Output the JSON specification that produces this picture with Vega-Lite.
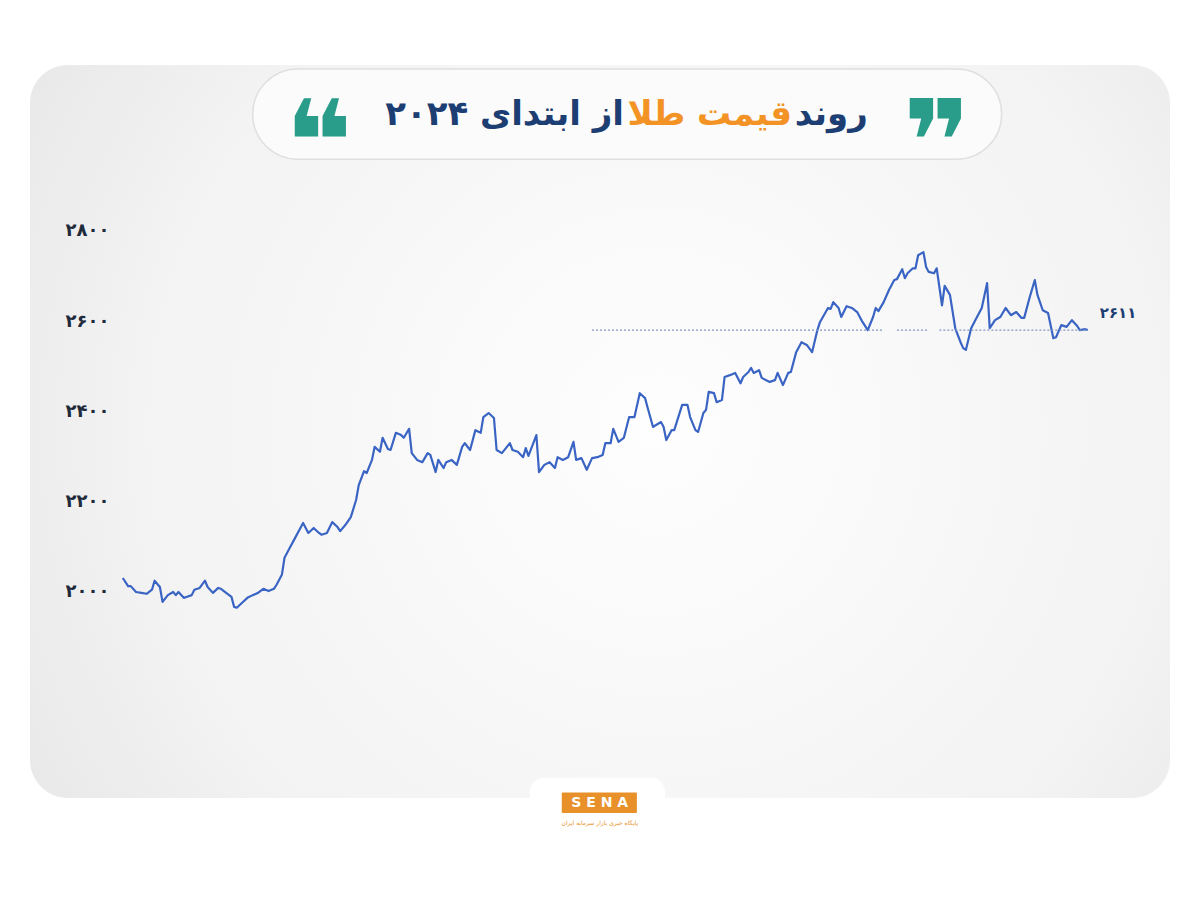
{
  "$schema": "https://vega.github.io/schema/vega-lite/v6.json",
  "width": 1140,
  "height": 733,
  "autosize": {"type": "none"},
  "padding": {"left": 30, "top": 65, "right": 30, "bottom": 102},
  "background": "#ffffff",
  "config": {
    "view": {
      "cornerRadius": 38,
      "stroke": null,
      "fill": {
        "gradient": "radial",
        "x1": 0.55, "y1": 0.5, "r1": 0,
        "x2": 0.55, "y2": 0.5, "r2": 0.75,
        "stops": [
          {"offset": 0, "color": "#fefefe"},
          {"offset": 0.6, "color": "#f3f3f3"},
          {"offset": 1, "color": "#e2e2e2"}
        ]
      }
    }
  },
  "data": {"values": [{"k": 1}]},
  "datasets": {
    "gold": [
      {"date":"2024-01-02","price":2061},{"date":"2024-01-04","price":2043},{"date":"2024-01-05","price":2043},
      {"date":"2024-01-07","price":2030},{"date":"2024-01-09","price":2028},{"date":"2024-01-11","price":2026},
      {"date":"2024-01-13","price":2035},{"date":"2024-01-14","price":2055},{"date":"2024-01-16","price":2041},
      {"date":"2024-01-17","price":2008},{"date":"2024-01-19","price":2023},{"date":"2024-01-21","price":2030},
      {"date":"2024-01-22","price":2023},{"date":"2024-01-23","price":2030},{"date":"2024-01-25","price":2017},
      {"date":"2024-01-26","price":2019},{"date":"2024-01-28","price":2023},{"date":"2024-01-29","price":2035},
      {"date":"2024-01-31","price":2039},{"date":"2024-02-02","price":2055},{"date":"2024-02-03","price":2041},
      {"date":"2024-02-05","price":2028},{"date":"2024-02-07","price":2039},{"date":"2024-02-08","price":2037},
      {"date":"2024-02-10","price":2028},{"date":"2024-02-12","price":2019},{"date":"2024-02-13","price":1997},
      {"date":"2024-02-14","price":1995},{"date":"2024-02-16","price":2006},{"date":"2024-02-18","price":2017},
      {"date":"2024-02-20","price":2023},{"date":"2024-02-22","price":2028},{"date":"2024-02-24","price":2037},
      {"date":"2024-02-26","price":2032},{"date":"2024-02-28","price":2037},{"date":"2024-02-29","price":2046},
      {"date":"2024-03-02","price":2068},{"date":"2024-03-03","price":2106},{"date":"2024-03-05","price":2128},
      {"date":"2024-03-07","price":2150},{"date":"2024-03-09","price":2172},{"date":"2024-03-10","price":2183},
      {"date":"2024-03-12","price":2161},{"date":"2024-03-14","price":2172},{"date":"2024-03-16","price":2161},
      {"date":"2024-03-17","price":2157},{"date":"2024-03-19","price":2161},{"date":"2024-03-21","price":2185},
      {"date":"2024-03-23","price":2174},{"date":"2024-03-24","price":2165},{"date":"2024-03-26","price":2179},
      {"date":"2024-03-28","price":2196},{"date":"2024-03-30","price":2234},{"date":"2024-03-31","price":2267},
      {"date":"2024-04-02","price":2298},{"date":"2024-04-03","price":2294},{"date":"2024-04-05","price":2323},
      {"date":"2024-04-06","price":2352},{"date":"2024-04-08","price":2341},{"date":"2024-04-09","price":2372},
      {"date":"2024-04-11","price":2347},{"date":"2024-04-12","price":2345},{"date":"2024-04-14","price":2383},
      {"date":"2024-04-16","price":2378},{"date":"2024-04-17","price":2372},{"date":"2024-04-19","price":2392},
      {"date":"2024-04-20","price":2338},{"date":"2024-04-22","price":2323},{"date":"2024-04-24","price":2318},
      {"date":"2024-04-26","price":2338},{"date":"2024-04-27","price":2334},{"date":"2024-04-29","price":2296},
      {"date":"2024-04-30","price":2323},{"date":"2024-05-02","price":2305},{"date":"2024-05-03","price":2318},
      {"date":"2024-05-05","price":2323},{"date":"2024-05-07","price":2312},{"date":"2024-05-09","price":2352},
      {"date":"2024-05-10","price":2360},{"date":"2024-05-12","price":2345},{"date":"2024-05-14","price":2389},
      {"date":"2024-05-16","price":2383},{"date":"2024-05-17","price":2418},{"date":"2024-05-19","price":2427},
      {"date":"2024-05-21","price":2416},{"date":"2024-05-22","price":2345},{"date":"2024-05-24","price":2338},
      {"date":"2024-05-27","price":2360},{"date":"2024-05-28","price":2345},{"date":"2024-05-30","price":2341},
      {"date":"2024-06-01","price":2329},{"date":"2024-06-02","price":2349},{"date":"2024-06-03","price":2332},
      {"date":"2024-06-06","price":2378},{"date":"2024-06-07","price":2296},{"date":"2024-06-09","price":2312},
      {"date":"2024-06-11","price":2318},{"date":"2024-06-13","price":2305},{"date":"2024-06-14","price":2329},
      {"date":"2024-06-16","price":2323},{"date":"2024-06-18","price":2329},{"date":"2024-06-20","price":2363},
      {"date":"2024-06-21","price":2323},{"date":"2024-06-23","price":2327},{"date":"2024-06-25","price":2301},
      {"date":"2024-06-27","price":2327},{"date":"2024-06-29","price":2329},{"date":"2024-07-01","price":2334},
      {"date":"2024-07-02","price":2360},{"date":"2024-07-04","price":2360},{"date":"2024-07-05","price":2392},
      {"date":"2024-07-07","price":2363},{"date":"2024-07-09","price":2372},{"date":"2024-07-11","price":2418},
      {"date":"2024-07-13","price":2418},{"date":"2024-07-15","price":2471},{"date":"2024-07-17","price":2460},
      {"date":"2024-07-18","price":2438},{"date":"2024-07-20","price":2396},{"date":"2024-07-21","price":2400},
      {"date":"2024-07-23","price":2407},{"date":"2024-07-24","price":2396},{"date":"2024-07-25","price":2367},
      {"date":"2024-07-27","price":2389},{"date":"2024-07-28","price":2389},{"date":"2024-07-31","price":2445},
      {"date":"2024-08-02","price":2445},{"date":"2024-08-03","price":2418},{"date":"2024-08-05","price":2389},
      {"date":"2024-08-06","price":2385},{"date":"2024-08-08","price":2427},{"date":"2024-08-09","price":2434},
      {"date":"2024-08-10","price":2474},{"date":"2024-08-12","price":2471},{"date":"2024-08-13","price":2451},
      {"date":"2024-08-15","price":2456},{"date":"2024-08-16","price":2507},{"date":"2024-08-18","price":2511},
      {"date":"2024-08-20","price":2516},{"date":"2024-08-22","price":2493},{"date":"2024-08-23","price":2507},
      {"date":"2024-08-25","price":2518},{"date":"2024-08-26","price":2527},{"date":"2024-08-27","price":2516},
      {"date":"2024-08-29","price":2522},{"date":"2024-08-30","price":2505},{"date":"2024-09-02","price":2496},
      {"date":"2024-09-04","price":2500},{"date":"2024-09-05","price":2516},{"date":"2024-09-07","price":2489},
      {"date":"2024-09-09","price":2516},{"date":"2024-09-10","price":2518},{"date":"2024-09-12","price":2562},
      {"date":"2024-09-14","price":2584},{"date":"2024-09-16","price":2578},{"date":"2024-09-18","price":2562},
      {"date":"2024-09-20","price":2611},{"date":"2024-09-21","price":2629},{"date":"2024-09-24","price":2660},
      {"date":"2024-09-25","price":2658},{"date":"2024-09-26","price":2673},{"date":"2024-09-28","price":2660},
      {"date":"2024-09-29","price":2640},{"date":"2024-10-01","price":2664},{"date":"2024-10-03","price":2660},
      {"date":"2024-10-05","price":2651},{"date":"2024-10-07","price":2629},{"date":"2024-10-09","price":2611},
      {"date":"2024-10-11","price":2640},{"date":"2024-10-12","price":2660},{"date":"2024-10-13","price":2653},
      {"date":"2024-10-15","price":2673},{"date":"2024-10-17","price":2700},{"date":"2024-10-19","price":2722},
      {"date":"2024-10-20","price":2724},{"date":"2024-10-22","price":2746},{"date":"2024-10-23","price":2726},
      {"date":"2024-10-24","price":2737},{"date":"2024-10-26","price":2748},{"date":"2024-10-27","price":2748},
      {"date":"2024-10-28","price":2777},{"date":"2024-10-30","price":2784},{"date":"2024-10-31","price":2751},
      {"date":"2024-11-01","price":2740},{"date":"2024-11-03","price":2737},{"date":"2024-11-04","price":2748},
      {"date":"2024-11-06","price":2666},{"date":"2024-11-07","price":2709},{"date":"2024-11-09","price":2689},
      {"date":"2024-11-11","price":2615},{"date":"2024-11-13","price":2584},{"date":"2024-11-14","price":2571},
      {"date":"2024-11-15","price":2567},{"date":"2024-11-17","price":2615},{"date":"2024-11-19","price":2638},
      {"date":"2024-11-21","price":2660},{"date":"2024-11-23","price":2715},{"date":"2024-11-24","price":2615},
      {"date":"2024-11-26","price":2633},{"date":"2024-11-28","price":2640},{"date":"2024-11-30","price":2660},
      {"date":"2024-12-02","price":2644},{"date":"2024-12-04","price":2651},{"date":"2024-12-06","price":2638},
      {"date":"2024-12-07","price":2638},{"date":"2024-12-09","price":2682},{"date":"2024-12-11","price":2722},
      {"date":"2024-12-12","price":2689},{"date":"2024-12-14","price":2655},{"date":"2024-12-16","price":2649},
      {"date":"2024-12-18","price":2593},{"date":"2024-12-19","price":2595},{"date":"2024-12-21","price":2622},
      {"date":"2024-12-23","price":2618},{"date":"2024-12-25","price":2633},{"date":"2024-12-27","price":2620},
      {"date":"2024-12-28","price":2611},{"date":"2024-12-30","price":2613},{"date":"2024-12-31","price":2611}
    ],
    "ref": [
      {"start":"2024-06-27","end":"2024-10-15","level":2611},
      {"start":"2024-10-20","end":"2024-11-01","level":2611},
      {"start":"2024-11-05","end":"2024-12-31","level":2611}
    ],
    "pill": [{"start":"2024-02-20","end":"2024-11-28T12:00:00Z","top":3190,"bottom":2990}],
    "tab": [{"start":"2024-06-03T12:00:00Z","end":"2024-07-24T12:00:00Z","top":1618,"bottom":1545}],
    "logo": [{"start":"2024-06-15T14:00:00Z","end":"2024-07-13T22:00:00Z","top":1585,"bottom":1540}],
    "last": [{"date":"2024-12-31","price":2611,"label":"۲۶۱۱"}],
    "titleBlue": [
      {"text":"روند","at":"2024-10-09T00:00:00Z","level":3088},
      {"text":"از ابتدای ۲۰۲۴","at":"2024-07-09T00:00:00Z","level":3088}
    ],
    "titleOrange": [{"text":"قیمت طلا","at":"2024-09-10T10:00:00Z","level":3088}],
    "quotes": [
      {"text":"❝","at":"2024-03-15T22:00:00Z","level":3017},
      {"text":"❞","at":"2024-11-04T00:00:00Z","level":3017}
    ],
    "logoText": [{"text":"S  E  N  A","at":"2024-06-29T22:00:00Z","level":1562}],
    "logoSub": [{"text":"پایگاه خبری بازار سرمایه ایران","at":"2024-06-29T22:00:00Z","level":1517}]
  },
  "layer": [
    {
      "data": {"name": "gold"},
      "mark": {"type": "line", "stroke": "#3a64c4", "strokeWidth": 2.2, "strokeJoin": "round"},
      "encoding": {
        "x": {
          "field": "date", "type": "temporal",
          "scale": {"type": "utc", "domain": [1701129600000, 1738281600000], "nice": false},
          "axis": null
        },
        "y": {
          "field": "price", "type": "quantitative",
          "scale": {"domain": [1573, 3199], "nice": false, "zero": false},
          "axis": {
            "orient": "left", "title": null,
            "values": [2000, 2200, 2400, 2600, 2800],
            "domain": false, "ticks": false, "grid": false,
            "labelAlign": "left", "labelPadding": -35, "labelOffset": -14,
            "labelFont": "DejaVu Sans", "labelFontWeight": "bold", "labelFontSize": 18, "labelColor": "#1f2a3a",
            "labelExpr": "datum.value == 2000 ? '۲۰۰۰' : datum.value == 2200 ? '۲۲۰۰' : datum.value == 2400 ? '۲۴۰۰' : datum.value == 2600 ? '۲۶۰۰' : '۲۸۰۰'"
          }
        }
      }
    },
    {
      "data": {"name": "ref"},
      "mark": {"type": "rule", "stroke": "#8096c6", "strokeWidth": 1.2, "strokeDash": [2, 2]},
      "encoding": {
        "x": {"field": "start", "type": "temporal"},
        "x2": {"field": "end"},
        "y": {"field": "level", "type": "quantitative"}
      }
    },
    {
      "data": {"name": "pill"},
      "mark": {"type": "rect", "fill": "#fbfbfb", "stroke": "#e0e0e0", "strokeWidth": 1.5, "cornerRadius": 46},
      "encoding": {
        "x": {"field": "start", "type": "temporal"},
        "x2": {"field": "end"},
        "y": {"field": "top", "type": "quantitative"},
        "y2": {"field": "bottom"}
      }
    },
    {
      "data": {"name": "tab"},
      "mark": {"type": "rect", "fill": "#ffffff", "cornerRadius": 14},
      "encoding": {
        "x": {"field": "start", "type": "temporal"},
        "x2": {"field": "end"},
        "y": {"field": "top", "type": "quantitative"},
        "y2": {"field": "bottom"}
      }
    },
    {
      "data": {"name": "last"},
      "mark": {"type": "text", "font": "DejaVu Sans", "fontWeight": "bold", "fontSize": 15, "fill": "#1d3e72", "align": "left", "baseline": "middle", "dx": 12, "dy": -17},
      "encoding": {
        "x": {"field": "date", "type": "temporal"},
        "y": {"field": "price", "type": "quantitative"},
        "text": {"field": "label"}
      }
    },
    {
      "data": {"name": "titleBlue"},
      "mark": {"type": "text", "font": "DejaVu Sans", "fontWeight": "bold", "fontSize": 34, "fill": "#1d3e72", "align": "right", "baseline": "middle"},
      "encoding": {
        "x": {"field": "at", "type": "temporal"},
        "y": {"field": "level", "type": "quantitative"},
        "text": {"field": "text"}
      }
    },
    {
      "data": {"name": "titleOrange"},
      "mark": {"type": "text", "font": "DejaVu Sans", "fontWeight": "bold", "fontSize": 34, "fill": "#f39325", "align": "right", "baseline": "middle"},
      "encoding": {
        "x": {"field": "at", "type": "temporal"},
        "y": {"field": "level", "type": "quantitative"},
        "text": {"field": "text"}
      }
    },
    {
      "data": {"name": "quotes"},
      "mark": {"type": "text", "font": "DejaVu Sans", "fontWeight": "bold", "fontSize": 115, "fill": "#2a9d8a", "align": "center", "baseline": "middle"},
      "encoding": {
        "x": {"field": "at", "type": "temporal"},
        "y": {"field": "level", "type": "quantitative"},
        "text": {"field": "text"}
      }
    },
    {
      "data": {"name": "logo"},
      "mark": {"type": "rect", "fill": "#e8912a", "cornerRadius": 1},
      "encoding": {
        "x": {"field": "start", "type": "temporal"},
        "x2": {"field": "end"},
        "y": {"field": "top", "type": "quantitative"},
        "y2": {"field": "bottom"}
      }
    },
    {
      "data": {"name": "logoText"},
      "mark": {"type": "text", "font": "DejaVu Sans", "fontWeight": "bold", "fontSize": 14, "fill": "#ffffff", "align": "center", "baseline": "middle"},
      "encoding": {
        "x": {"field": "at", "type": "temporal"},
        "y": {"field": "level", "type": "quantitative"},
        "text": {"field": "text"}
      }
    },
    {
      "data": {"name": "logoSub"},
      "mark": {"type": "text", "font": "DejaVu Sans", "fontSize": 6, "fill": "#e8912a", "align": "center", "baseline": "middle"},
      "encoding": {
        "x": {"field": "at", "type": "temporal"},
        "y": {"field": "level", "type": "quantitative"},
        "text": {"field": "text"}
      }
    }
  ]
}
